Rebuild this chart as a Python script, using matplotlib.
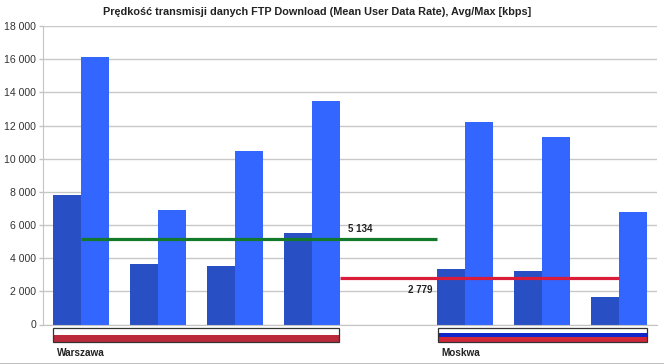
import matplotlib
matplotlib.use("Agg")
import matplotlib.pyplot as plt
from matplotlib.patches import Rectangle
import numpy as np

plt.rcParams['font.family'] = ['Liberation Sans', 'DejaVu Sans']

# slot 4 is the empty gap between the two cities
slots = [0, 1, 2, 3, 5, 6, 7]
avg_kbps = [7800, 3650, 3500, 5500, 3350, 3250, 1650]
max_kbps = [16150, 6900, 10450, 13500, 12200, 11300, 6800]
y_ticks = [0, 2000, 4000, 6000, 8000, 10000, 12000, 14000, 16000, 18000]
y_labels = ["0", "2 000", "4 000", "6 000", "8 000", "10 000", "12 000", "14 000", "16 000", "18 000"]

warszawa_mean = 5134
warszawa_span = [0, 4.63]
moskwa_mean = 2779
moskwa_span = [3.37, 7.0]

title = "Prędkość transmisji danych FTP Download (Mean User Data Rate), Avg/Max [kbps]"

W, H = 664, 364
fig = plt.figure(figsize=(W / 100, H / 100), dpi=100, facecolor="white")
ax = fig.add_axes([43 / W, 1 - 324.5 / H, 614 / W, 298.5 / H])

bar_w = 0.365
x = np.array(slots)
ax.bar(x - bar_w / 2, avg_kbps, bar_w, color="#2850c4", zorder=2)
ax.bar(x + bar_w / 2, max_kbps, bar_w, color="#3366ff", zorder=2)

ax.plot(warszawa_span, [warszawa_mean] * 2, color="#127a2a", lw=2.3, solid_capstyle="butt", zorder=3)
ax.plot(moskwa_span, [moskwa_mean] * 2, color="#d91c3a", lw=2.3, solid_capstyle="butt", zorder=3)

ax.set_xlim(-0.5, 7.5)
ax.set_ylim(0, 18000)
ax.set_xticks([])
ax.set_yticks(y_ticks)
ax.set_yticklabels(y_labels, fontsize=7.6, color="#333333")
ax.tick_params(axis="y", length=3, width=1, color="#c4c4c4", pad=2)
ax.grid(axis="y", color="#c8c8c8", lw=1, zorder=1)
ax.set_axisbelow(True)
for name, spine in ax.spines.items():
    spine.set_visible(name in ("left", "bottom"))
    spine.set_color("#c4c4c4")

ax.text(3.79, 5134 + 600, "5 134", fontsize=7, fontweight="bold", color="#222222", ha="right", va="center")
ax.text(4.57, 2779 - 700, "2 779", fontsize=7, fontweight="bold", color="#222222", ha="right", va="center")


def px_box(left, top, right, bottom, color, **kw):
    fig.add_artist(Rectangle((left / W, 1 - bottom / H), (right - left) / W, (bottom - top) / H,
                             transform=fig.transFigure, facecolor=color, **kw))


# flags below the axis
px_box(53, 328, 339, 335, "white")
px_box(53, 335, 339, 341.5, "#bb2a3a")
px_box(53, 327.5, 339, 341.5, "none", edgecolor="#333333", lw=0.9)

px_box(438, 328, 647, 333, "white")
px_box(438, 333, 647, 337, "#1026c8")
px_box(438, 337, 647, 341.5, "#d22638")
px_box(438, 327.5, 647, 341.5, "none", edgecolor="#333333", lw=0.9)

fig.text(57 / W, 1 - 352.5 / H, "Warszawa", fontsize=7.2, fontweight="bold", color="#222222", va="center")
fig.text(441 / W, 1 - 352.5 / H, "Moskwa", fontsize=7.2, fontweight="bold", color="#222222", va="center")
fig.text(317.5 / W, 1 - 12 / H, title, fontsize=7.8, fontweight="bold", color="#222222", ha="center", va="center")

# grey strip along the bottom edge of the screenshot
px_box(0, 362.5, W, H, "#c0c0c0")

fig.savefig("out.png", dpi=100)
